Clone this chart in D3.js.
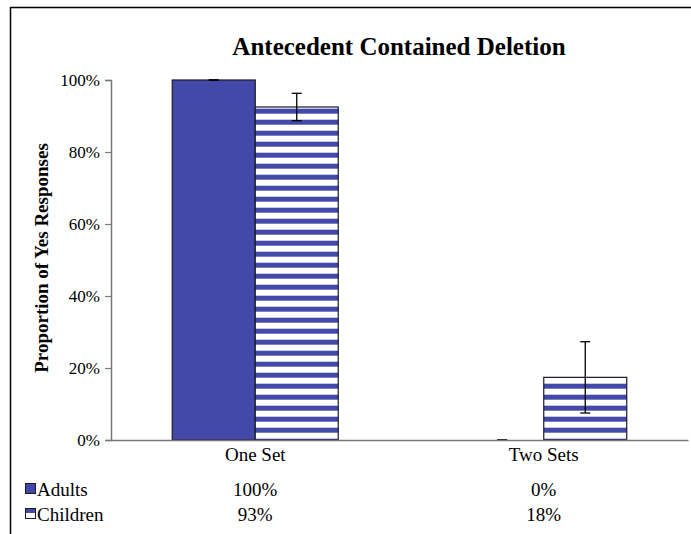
<!DOCTYPE html>
<html>
<head>
<meta charset="utf-8">
<script src="https://cdn.jsdelivr.net/npm/d3@7"></script>
<style>
  body { margin: 0; background: #fff; }
  svg { display: block; }
  svg text { font-family: "Liberation Serif", "Times New Roman", Times, serif; }
</style>
</head>
<body>
<svg id="chart" width="691" height="534"></svg>
<script>
const categories = ["One Set", "Two Sets"];
const seriesNames = ["Adults", "Children"];
const adults = [1.0, 0.0];
const children = [0.925, 0.174];
const adultsErr = [0.0, 0.0];
const childrenErr = [0.038, 0.099];
const adultsLabels = ["100%", "0%"];
const childrenLabels = ["93%", "18%"];
const yTicks = [0, 0.2, 0.4, 0.6, 0.8, 1.0];

const BLUE = "#4349a8";
const FONT = 19;

const svg = d3.select("#chart");
const margin = { top: 80, left: 111, right: 3, bottom: 94 };
const width = 691 - margin.left - margin.right;
const height = 534 - margin.top - margin.bottom;

// stripe pattern for children bars
const defs = svg.append("defs");
const pat = defs.append("pattern")
  .attr("id", "stripes")
  .attr("patternUnits", "userSpaceOnUse")
  .attr("width", 11).attr("height", 11)
  .attr("patternTransform", "translate(0,6.7)");
pat.append("rect").attr("width", 11).attr("height", 11).attr("fill", "#fff");
pat.append("rect").attr("width", 11).attr("height", 5).attr("fill", BLUE);

// outer frame (runs off the right and bottom)
svg.append("path")
  .attr("d", "M10.5,540 L10.5,7.5 L700,7.5")
  .attr("fill", "none").attr("stroke", "#000").attr("stroke-width", 1.5);

svg.append("text")
  .attr("x", 399).attr("y", 55)
  .attr("text-anchor", "middle")
  .attr("font-size", 25).attr("font-weight", "bold")
  .text("Antecedent Contained Deletion");

const g = svg.append("g").attr("transform", `translate(${margin.left},${margin.top})`);

const x0 = d3.scaleBand().domain(categories).range([0, width]);
const x1 = d3.scaleBand().domain(seriesNames).range([0, 166]);
const y = d3.scaleLinear().domain([0, 1]).range([height, 0]);

// y axis
const yAxis = g.append("g")
  .call(d3.axisLeft(y).tickValues(yTicks).tickFormat(d3.format(".0%")).tickSize(6).tickPadding(5));
yAxis.attr("font-family", null);
yAxis.select(".domain").attr("stroke", "#777").attr("stroke-width", 1.5);
yAxis.selectAll(".tick line").attr("stroke", "#777").attr("stroke-width", 1.2);
yAxis.selectAll(".tick text").attr("font-size", 17).attr("fill", "#000");

svg.append("text")
  .attr("transform", `translate(48,${margin.top + height / 2 - 2}) rotate(-90)`)
  .attr("text-anchor", "middle")
  .attr("font-size", 19).attr("font-weight", "bold")
  .text("Proportion of Yes Responses");

const series = [
  { name: "Adults", values: adults, err: adultsErr, fill: BLUE },
  { name: "Children", values: children, err: childrenErr, fill: "url(#stripes)" }
];

const groupOffset = (x0.bandwidth() - 166) / 2;

series.forEach(s => {
  g.append("g").selectAll("rect")
    .data(categories)
    .join("rect")
    .attr("x", (c) => x0(c) + groupOffset + x1(s.name))
    .attr("width", x1.bandwidth())
    .attr("y", (c, i) => y(s.values[i]))
    .attr("height", (c, i) => height - y(s.values[i]))
    .attr("fill", s.fill)
    .attr("stroke", "#1a1a2a").attr("stroke-width", 1.2);

  // error bars
  const eb = g.append("g").attr("stroke", "#000").attr("stroke-width", 1.3);
  categories.forEach((c, i) => {
    const cx = x0(c) + groupOffset + x1(s.name) + x1.bandwidth() / 2;
    const hi = y(Math.min(1, s.values[i] + s.err[i]));
    const lo = y(Math.max(0, s.values[i] - s.err[i]));
    eb.append("line").attr("x1", cx).attr("x2", cx).attr("y1", hi).attr("y2", lo);
    eb.append("line").attr("x1", cx - 5).attr("x2", cx + 5).attr("y1", hi).attr("y2", hi);
    eb.append("line").attr("x1", cx - 5).attr("x2", cx + 5).attr("y1", lo).attr("y2", lo);
  });
});

// x axis
const xAxis = g.append("g")
  .attr("transform", `translate(0,${height})`)
  .call(d3.axisBottom(x0).tickSize(0).tickPadding(8));
xAxis.attr("font-family", null);
xAxis.select(".domain").attr("stroke", "#777").attr("stroke-width", 1.5);
xAxis.selectAll(".tick text").attr("font-size", FONT).attr("fill", "#000");

// data table legend
const rows = [
  { name: "Adults", labels: adultsLabels },
  { name: "Children", labels: childrenLabels }
];
const rowY = [489, 514];
rows.forEach((r, k) => {
  const yy = rowY[k];
  svg.append("rect").attr("x", 25.5).attr("y", yy - 5.5).attr("width", 10).attr("height", 10)
    .attr("fill", k === 0 ? BLUE : "#fff").attr("stroke", "#1a1a2a").attr("stroke-width", 1);
  if (k === 1) {
    svg.append("rect").attr("x", 26).attr("y", yy - 5).attr("width", 9).attr("height", 4)
      .attr("fill", BLUE);
  }
  svg.append("text").attr("x", 37).attr("y", yy).attr("dy", "0.35em")
    .attr("font-size", FONT).text(r.name);
  categories.forEach((c, i) => {
    svg.append("text")
      .attr("x", margin.left + x0(c) + x0.bandwidth() / 2)
      .attr("y", yy).attr("dy", "0.35em")
      .attr("text-anchor", "middle").attr("font-size", FONT)
      .text(r.labels[i]);
  });
});
</script>
</body>
</html>
